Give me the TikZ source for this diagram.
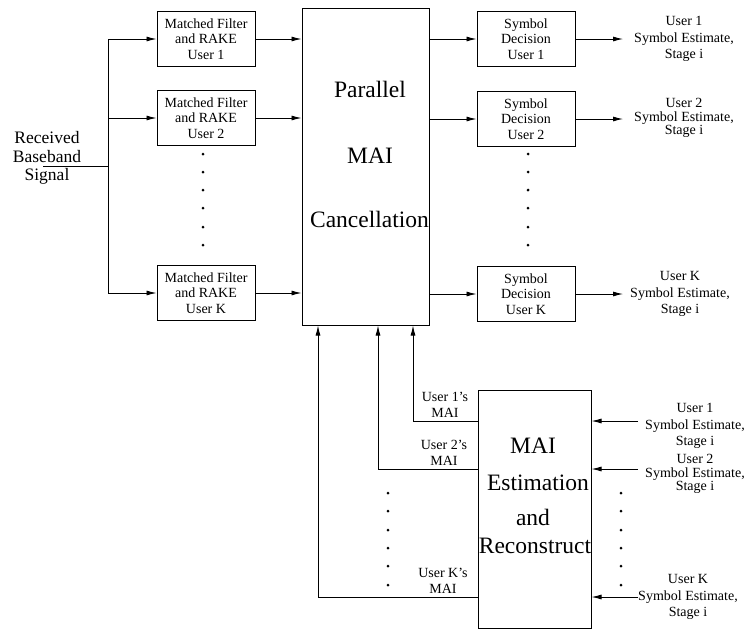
\documentclass[tikz,border=0pt]{standalone}
\usepackage{fontspec}
\setmainfont{Liberation Serif}
\usetikzlibrary{arrows.meta}
\begin{document}
\begin{tikzpicture}[x=1pt,y=-1pt,
  blk/.style={draw,line width=1pt,inner sep=0pt,align=center,
    minimum width=98pt,minimum height=55pt,font=\fontsize{14}{15.5}\selectfont},
  big/.style={draw,line width=1pt,inner sep=0pt},
  bigtxt/.style={inner sep=0pt,anchor=base,font=\fontsize{23.5}{26}\selectfont},
  lbl/.style={inner sep=0pt,align=center,font=\fontsize{14}{16.3}\selectfont},
  tight/.style={inner sep=0pt,align=center,font=\fontsize{14}{13.5}\selectfont},
  wire/.style={line width=0.9pt},
  arr/.style={wire,-{Latex[length=10pt,width=5pt]}},
  dot/.style={circle,fill,inner sep=0pt,minimum size=3pt}]
\useasboundingbox (0,0) rectangle (747,630);

% received signal and distribution trunk
\node[inner sep=0pt,align=center,font=\fontsize{17.5}{18.5}\selectfont] (rx) at (47,158) {Received\\Baseband\\Signal};
\coordinate (rin) at (43,166);
\coordinate (tr) at (108,166);
\coordinate (tt) at (108,39);
\coordinate (tb) at (108,293);

% matched filter bank
\node[blk] (mf1) at (206,39) {Matched Filter\\and RAKE\\User 1};
\node[blk] (mf2) at (206,118) {Matched Filter\\and RAKE\\User 2};
\node[blk] (mfk) at (206,293) {Matched Filter\\and RAKE\\User K};
\foreach \y [count=\i] in {154,172,190,208,227,245}
  \node[dot] (mfd\i) at (203,\y) {};

% parallel cancellation stage
\node[big,minimum width=127pt,minimum height=317pt] (pmc) at (365.5,166.5) {};
\node[bigtxt] (pmc1) at (370,97) {Parallel};
\node[bigtxt] (pmc2) at (370,163) {MAI};
\node[bigtxt] (pmc3) at (369.5,227) {Cancellation};

% symbol decisions
\node[blk] (sd1) at (526,39) {Symbol\\Decision\\User 1};
\node[blk] (sd2) at (526,119) {Symbol\\Decision\\User 2};
\node[blk] (sdk) at (526,294) {Symbol\\Decision\\User K};
\foreach \y [count=\i] in {154,172,190,208,227,245}
  \node[dot] (sdd\i) at (528,\y) {};

\node[lbl] (o1) at (684,39) {User 1\\Symbol Estimate,\\Stage i};
\node[tight] (o2) at (684,118) {User 2\\Symbol Estimate,\\Stage i};
\node[lbl] (ok) at (680,294) {User K\\Symbol Estimate,\\Stage i};
\coordinate (oe1) at (623,39);
\coordinate (oe2) at (623,119);
\coordinate (oek) at (623,294);

% MAI estimation and reconstruction
\node[big,minimum width=113pt,minimum height=238pt] (est) at (534.5,509) {};
\node[bigtxt] (est1) at (533,453) {MAI};
\node[bigtxt] (est2) at (538,490) {Estimation};
\node[bigtxt] (est3) at (533,525) {and};
\node[bigtxt] (est4) at (535,553) {Reconstruct};

\node[lbl] (m1) at (445,405) {User 1's\\MAI};
\node[lbl] (m2) at (444,453) {User 2's\\MAI};
\node[lbl] (mk) at (443,581) {User K's\\MAI};
\foreach \y [count=\i] in {493,511,530,548,566,585}
  \node[dot] (md\i) at (388,\y) {};

\node[lbl] (i1) at (695,426) {User 1\\Symbol Estimate,\\Stage i};
\node[tight] (i2) at (695,474) {User 2\\Symbol Estimate,\\Stage i};
\node[lbl] (ik) at (688,597) {User K\\Symbol Estimate,\\Stage i};
\foreach \y [count=\i] in {493,511,530,548,566,585}
  \node[dot] (id\i) at (621,\y) {};
\coordinate (in1) at (638,421);
\coordinate (in2) at (638,469);
\coordinate (ink) at (638,597);

% connectors
\draw[wire] (rin) -- (tr);
\draw[wire] (tt) -- (tb);
\draw[arr] (tt) -- (mf1.west);
\draw[arr] (tt |- mf2.west) -- (mf2.west);
\draw[arr] (tb) -- (mfk.west);
\draw[arr] (mf1.east) -- (mf1.east -| pmc.west);
\draw[arr] (mf2.east) -- (mf2.east -| pmc.west);
\draw[arr] (mfk.east) -- (mfk.east -| pmc.west);
\draw[arr] (sd1.west -| pmc.east) -- (sd1.west);
\draw[arr] (sd2.west -| pmc.east) -- (sd2.west);
\draw[arr] (sdk.west -| pmc.east) -- (sdk.west);
\draw[arr] (sd1.east) -- (oe1);
\draw[arr] (sd2.east) -- (oe2);
\draw[arr] (sdk.east) -- (oek);

\draw[arr] (est.west |- in1) -| (pmc.south -| 413,0);
\draw[arr] (est.west |- in2) -| (pmc.south -| 378,0);
\draw[arr] (est.west |- ink) -| (pmc.south -| 318,0);
\draw[arr] (in1) -- (est.east |- in1);
\draw[arr] (in2) -- (est.east |- in2);
\draw[arr] (ink) -- (est.east |- ink);
\end{tikzpicture}
\end{document}
